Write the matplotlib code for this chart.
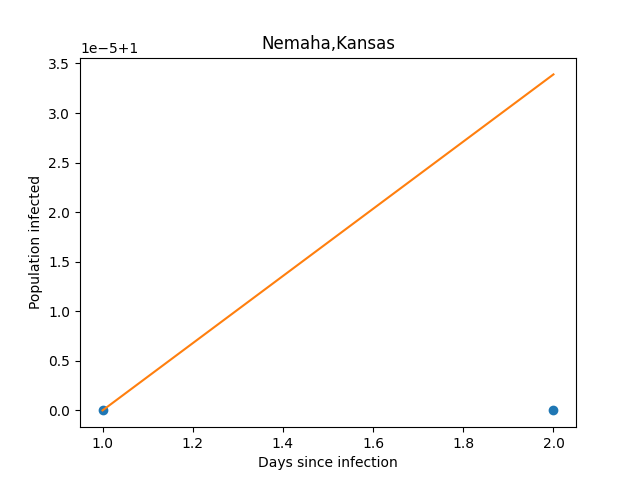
import matplotlib
matplotlib.use("Agg")
import matplotlib.pyplot as plt
import numpy as np

days = [1, 2]
infected = [1.0, 1.0]
fit_days = [1, 2]
fit_values = [1.0, 1.0000339]

fig, ax = plt.subplots(figsize=(6.4, 4.8), dpi=100)
ax.scatter(days, infected)
ax.plot(fit_days, fit_values, color="C1")
ax.set_title("Nemaha,Kansas")
ax.set_xlabel("Days since infection")
ax.set_ylabel("Population infected")
plt.savefig("out.png")
